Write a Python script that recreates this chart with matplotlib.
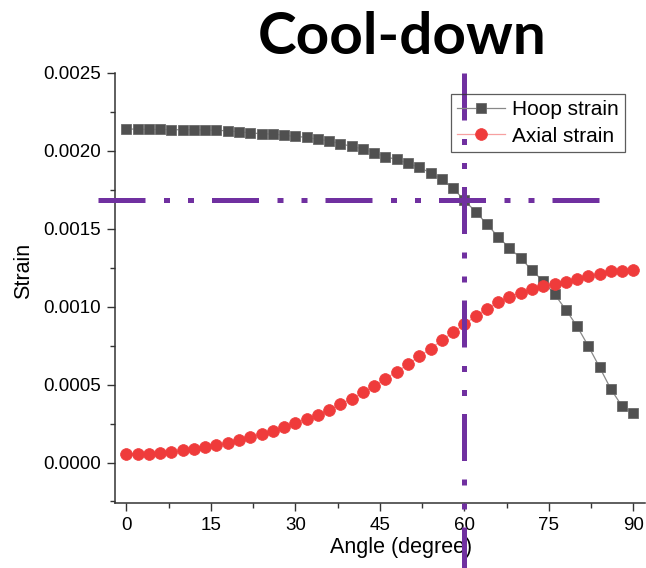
import matplotlib
matplotlib.use("Agg")
import matplotlib.pyplot as plt
from matplotlib.ticker import MultipleLocator, FormatStrFormatter

plt.rcParams['font.family'] = ['Liberation Sans', 'DejaVu Sans']

# Strain vs. angle, sampled every 2 degrees
angle = list(range(0, 91, 2))
hoop = [0.002140, 0.002140, 0.002138, 0.002138, 0.002136, 0.002136, 0.002136, 0.002134,
        0.002132, 0.002129, 0.002123, 0.002116, 0.002110, 0.002108, 0.002100, 0.002093,
        0.002087, 0.002074, 0.002065, 0.002046, 0.002029, 0.002012, 0.001989, 0.001962,
        0.001945, 0.001920, 0.001894, 0.001859, 0.001817, 0.001759, 0.001684, 0.001609,
        0.001530, 0.001448, 0.001377, 0.001311, 0.001234, 0.001163, 0.001080, 0.000981,
        0.000874, 0.000747, 0.000611, 0.000471, 0.000360, 0.000317]
axial = [0.0000559, 0.0000559, 0.0000578, 0.0000623, 0.0000688, 0.0000771, 0.0000836,
         0.0000964, 0.000111, 0.000127, 0.000144, 0.000163, 0.000184, 0.000204, 0.000227,
         0.000253, 0.000278, 0.000308, 0.000339, 0.000373, 0.000409, 0.000450, 0.000491,
         0.000538, 0.000583, 0.000630, 0.000681, 0.000731, 0.000784, 0.000837, 0.000887,
         0.000940, 0.000988, 0.001028, 0.001062, 0.001091, 0.001112, 0.001133, 0.001146,
         0.001161, 0.001178, 0.001197, 0.001213, 0.001226, 0.001229, 0.001234]

# reference point marked with the crosshair
mark_angle = 60
mark_strain = 0.001684

fig = plt.figure(figsize=(6.46, 5.68), dpi=100)
ax = fig.add_axes([0.178, 0.1144, 0.82, 0.7571])

ax.plot(angle, hoop, color='#888888', lw=0.9, marker='s', ms=7.5,
        mfc='#505050', mec='#6a6a6a', mew=0.6, label='Hoop strain', zorder=3)
ax.plot(angle, axial, color='#f7a0a0', lw=0.9, marker='o', ms=8.5,
        mfc='#ef3b3b', mec='#ef3b3b', mew=0.5, label='Axial strain', zorder=3)

# dash-dot-dot crosshair
purple = '#7030a0'
dash = (9.4, 3.7, 1.2, 3.6, 1.2, 3.6)
ax.plot([-5.1, 84.0], [mark_strain, mark_strain], color=purple, lw=3.6,
        dashes=dash, clip_on=False, zorder=4)
ax.plot([mark_angle, mark_angle], [0.0025, -0.00068], color=purple, lw=3.6,
        dashes=dash, clip_on=False, zorder=4)

ax.set_xlim(-2, 92)
ax.set_ylim(-0.00026, 0.0025)
ax.xaxis.set_major_locator(MultipleLocator(15))
ax.xaxis.set_minor_locator(MultipleLocator(7.5))
ax.yaxis.set_major_locator(MultipleLocator(0.0005))
ax.yaxis.set_minor_locator(MultipleLocator(0.00025))
ax.yaxis.set_major_formatter(FormatStrFormatter('%.4f'))

for s in ['top', 'right']:
    ax.spines[s].set_visible(False)
for s in ['left', 'bottom']:
    ax.spines[s].set_linewidth(1.1)
    ax.spines[s].set_color('#333333')
ax.tick_params(which='major', direction='out', length=6, width=1, labelsize=13.5,
               colors='#333333', labelcolor='black', pad=4)
ax.tick_params(which='minor', direction='out', length=3.5, width=1, colors='#333333')

ax.set_xlabel('Angle (degree)', fontsize=15.5)
ax.set_ylabel('Strain', fontsize=15.5)
ax.xaxis.set_label_coords(0.54, -0.079)
ax.yaxis.set_label_coords(-0.153, 0.54)

leg = ax.legend(loc='upper right', bbox_to_anchor=(0.962, 0.951), borderaxespad=0,
                fontsize=15, handlelength=2.3, handletextpad=0.3, borderpad=0.3,
                labelspacing=0.35, fancybox=False, edgecolor='#333333')
leg.get_frame().set_facecolor('none')
leg.get_frame().set_linewidth(0.9)

fig.text(0.622, 0.905, 'Cool-down', family=['Lato', 'DejaVu Sans'], weight='bold',
         fontsize=42, ha='center', va='baseline')

fig.savefig('out.png', dpi=100)
